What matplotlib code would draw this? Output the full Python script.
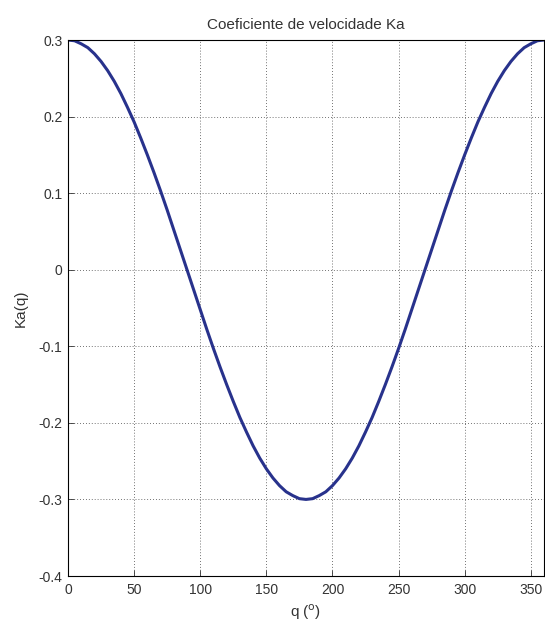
import matplotlib
matplotlib.use("Agg")
import matplotlib.pyplot as plt

# Angle q in degrees and the velocity coefficient Ka
q_deg = [0, 5, 10, 15, 20, 25, 30, 35, 40, 45, 50, 55, 60, 65, 70, 75, 80, 85,
         90, 95, 100, 105, 110, 115, 120, 125, 130, 135, 140, 145, 150, 155,
         160, 165, 170, 175, 180, 185, 190, 195, 200, 205, 210, 215, 220, 225,
         230, 235, 240, 245, 250, 255, 260, 265, 270, 275, 280, 285, 290, 295,
         300, 305, 310, 315, 320, 325, 330, 335, 340, 345, 350, 355, 360]
ka = [0.300, 0.299, 0.295, 0.290, 0.282, 0.272, 0.260, 0.246, 0.230, 0.212,
      0.193, 0.172, 0.150, 0.127, 0.103, 0.078, 0.052, 0.026, 0.000, -0.026,
      -0.052, -0.078, -0.103, -0.127, -0.150, -0.172, -0.193, -0.212, -0.230,
      -0.246, -0.260, -0.272, -0.282, -0.290, -0.295, -0.299, -0.300, -0.299,
      -0.295, -0.290, -0.282, -0.272, -0.260, -0.246, -0.230, -0.212, -0.193,
      -0.172, -0.150, -0.127, -0.103, -0.078, -0.052, -0.026, 0.000, 0.026,
      0.052, 0.078, 0.103, 0.127, 0.150, 0.172, 0.193, 0.212, 0.230, 0.246,
      0.260, 0.272, 0.282, 0.290, 0.295, 0.299, 0.300]

x_ticks = [0, 50, 100, 150, 200, 250, 300, 350]
y_ticks = [-0.4, -0.3, -0.2, -0.1, 0, 0.1, 0.2, 0.3]
y_tick_labels = ["-0.4", "-0.3", "-0.2", "-0.1", "0", "0.1", "0.2", "0.3"]

plt.rcParams['font.family'] = ['Liberation Sans', 'DejaVu Sans']

fig = plt.figure(figsize=(5.45, 6.28), dpi=100)
ax = fig.add_axes([68/545, (628-576)/628, 476/545, 536/628])

ax.plot(q_deg, ka, color='#28328c', linewidth=2.2)

ax.set_xlim(0, 360)
ax.set_ylim(-0.4, 0.3)
ax.set_xticks(x_ticks)
ax.set_yticks(y_ticks)
ax.set_yticklabels(y_tick_labels)
ax.tick_params(direction='in', length=4, labelsize=10, colors='#333333', width=0.6)
ax.tick_params(axis='x', pad=5)
ax.tick_params(axis='y', pad=4)
ax.grid(True, linestyle=(0, (1, 2.5)), color='#444444', linewidth=0.6)
for s in ax.spines.values():
    s.set_linewidth(0.8)
    s.set_color('black')

ax.set_title('Coeficiente de velocidade Ka', fontsize=11, color='#333333', pad=8)
ax.set_xlabel('q ($^{\\rm o}$)', fontsize=11, color='#333333', labelpad=4)
ax.set_ylabel('Ka(q)', fontsize=11, color='#333333', labelpad=8)

fig.savefig('out.png', dpi=100)
